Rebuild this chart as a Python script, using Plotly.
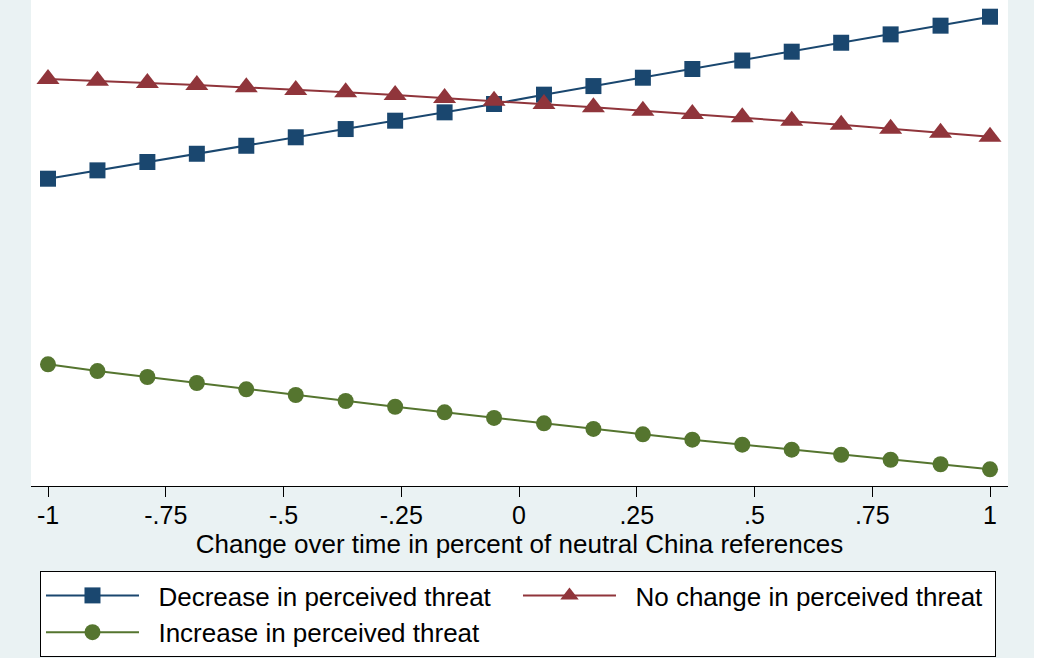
import plotly.graph_objects as go

x_vals = [-1.0, -0.895, -0.789, -0.684, -0.579, -0.474, -0.368, -0.263, -0.158, -0.053,
          0.053, 0.158, 0.263, 0.368, 0.474, 0.579, 0.684, 0.789, 0.895, 1.0]

decrease = [0.3574, 0.3644, 0.3714, 0.3783, 0.3850, 0.3921, 0.3990, 0.4060, 0.4130, 0.4200,
            0.4278, 0.4350, 0.4420, 0.4493, 0.4564, 0.4638, 0.4713, 0.4783, 0.4856, 0.4931]
no_change = [0.4409, 0.4395, 0.4376, 0.4359, 0.4340, 0.4317, 0.4298, 0.4275, 0.4250, 0.4227,
             0.4200, 0.4172, 0.4144, 0.4116, 0.4088, 0.4060, 0.4026, 0.3993, 0.3959, 0.3926]
increase = [0.2019, 0.1963, 0.1913, 0.1863, 0.1810, 0.1762, 0.1712, 0.1664, 0.1617, 0.1570,
            0.1525, 0.1478, 0.1433, 0.1388, 0.1346, 0.1304, 0.1262, 0.1220, 0.1182, 0.1140]

tick_vals = [-1, -0.75, -0.5, -0.25, 0, 0.25, 0.5, 0.75, 1]
tick_text = ["-1", "-.75", "-.5", "-.25", "0", ".25", ".5", ".75", "1"]

series = [
    ("Decrease in perceived threat", decrease, "#1A476F", "square", 16),
    ("No change in perceived threat", no_change, "#90353B", "triangle-up", 20),
    ("Increase in perceived threat", increase, "#55752F", "circle", 16),
]

FONT = "Liberation Sans, Arial, Helvetica, sans-serif"
PAD = "\u00a0\u00a0"

fig = go.Figure()
for name, vals, color, sym, size in series:
    fig.add_trace(go.Scatter(
        x=x_vals, y=vals, name=PAD + name, mode="lines+markers",
        line=dict(color=color, width=2),
        marker=dict(symbol=sym, size=size, color=color, line=dict(width=0)),
    ))

fig.update_layout(
    width=1034, height=658,
    paper_bgcolor="#EAF2F3", plot_bgcolor="white",
    margin=dict(l=31, r=26, t=0, b=172, autoexpand=False),
    font=dict(family=FONT, size=26, color="black"),
    xaxis=dict(
        range=[-1.0361, 1.0382], tickvals=tick_vals, ticktext=tick_text,
        showgrid=False, zeroline=False, showline=True, linecolor="black", linewidth=1,
        ticks="outside", ticklen=10, tickcolor="black", tickwidth=1,
        ticklabelstandoff=-3,
        tickfont=dict(size=25, family=FONT),
        title=dict(text="Change over time in percent of neutral China references",
                   font=dict(size=26, family=FONT), standoff=0),
    ),
    yaxis=dict(range=[0.1, 0.5071], visible=False, showgrid=False, zeroline=False),
    showlegend=True,
    legend=dict(
        orientation="h", x=0.0092, xanchor="left", y=-0.1749, yanchor="top",
        bgcolor="white", bordercolor="black", borderwidth=1,
        font=dict(size=26, family=FONT),
        entrywidth=369, entrywidthmode="pixels", itemwidth=93,
        tracegroupgap=0,
    ),
)

fig.write_html("out.html",
               config={"displayModeBar": False},
               post_script="document.body.style.margin='0';document.body.style.background='white';")
